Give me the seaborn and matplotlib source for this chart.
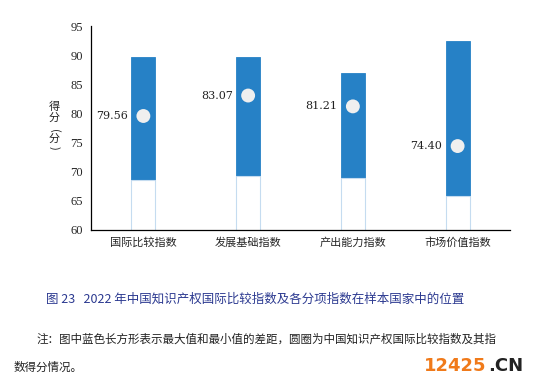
import pandas as pd
import matplotlib
matplotlib.use("Agg")
import matplotlib.pyplot as plt
import seaborn as sns

# data
categories = ["国际比较指数", "发展基础指数", "产出能力指数", "市场价值指数"]
max_vals = [89.7, 89.7, 86.9, 92.4]
min_vals = [68.5, 69.3, 69.0, 65.8]
china_vals = [79.56, 83.07, 81.21, 74.40]
y_ticks = [60, 65, 70, 75, 80, 85, 90, 95]

df = pd.DataFrame({"cat": categories, "max": max_vals, "min": min_vals, "china": china_vals})

sns.set_theme(style="white")
plt.rcParams["font.family"] = ["Noto Sans CJK SC", "DejaVu Sans"]

fig = plt.figure(figsize=(5.57, 3.87), dpi=100)
ax = fig.add_axes([0.1634, 0.4057, 0.7522, 0.5271])

# blue range bar (drawn to max, lower part covered by a white bar up to min)
sns.barplot(data=df, x="cat", y="max", color="#2681c6", saturation=1, width=0.23,
            edgecolor="#2681c6", linewidth=0.6, ax=ax)
sns.barplot(data=df, x="cat", y="min", color="white", saturation=1, width=0.23,
            edgecolor="#c5dcf0", linewidth=0.8, ax=ax)
sns.scatterplot(data=df, x="cat", y="china", color="#efefef", s=100, edgecolor="none",
                zorder=5, ax=ax)

for i, v in enumerate(china_vals):
    ax.annotate(f"{v:.2f}", (i, v), xytext=(-11, 0), textcoords="offset points",
                ha="right", va="center", fontsize=8, family="DejaVu Serif", color="#222222")

ax.set_ylim(60, 95)
ax.set_xlim(-0.5, 3.5)
ax.set_yticks(y_ticks)
ax.set_yticklabels([str(t) for t in y_ticks], family="Liberation Serif", fontsize=9)
ax.set_xticks(range(len(categories)))
ax.set_xticklabels(categories, fontsize=8)
ax.set_xticks([-0.5, 0.5, 1.5, 2.5, 3.5], minor=True)
ax.tick_params(axis="x", which="major", length=0, pad=5)
ax.tick_params(axis="x", which="minor", length=4, width=0.8, direction="out", color="black")
ax.tick_params(axis="y", length=3, width=0.8, direction="out", color="black", pad=3)
ax.set_xlabel("")
ax.set_ylabel("")
for s in ["top", "right"]:
    ax.spines[s].set_visible(False)
for s in ["left", "bottom"]:
    ax.spines[s].set_color("black")
    ax.spines[s].set_linewidth(0.9)

# vertical y label: 得 分 （分）
ylab_x = 54 / 557
for ch, ypx, rot in [("得", 107, 0), ("分", 118, 0), ("(", 131, -90), ("分", 139, 0), (")", 148, -90)]:
    fig.text(ylab_x, 1 - ypx / 387, ch, fontsize=8, ha="center", va="center",
             rotation=rot, color="#222222")

fig.text(0.458, 0.228, "图 23   2022 年中国知识产权国际比较指数及各分项指数在样本国家中的位置",
         fontsize=9, ha="center", va="center", color="#2b3990")
fig.text(0.065, 0.124, "注：图中蓝色长方形表示最大值和最小值的差距，圆圈为中国知识产权国际比较指数及其指",
         fontsize=8.3, ha="left", va="center", color="#222222")
fig.text(0.025, 0.05, "数得分情况。", fontsize=8.3, ha="left", va="center", color="#222222")

fig.text(0.762, 0.055, "12425", fontsize=13, fontweight="bold", color="#f07a1a",
         ha="left", va="center", family="DejaVu Sans")
fig.text(0.877, 0.055, ".CN", fontsize=13, fontweight="bold", color="#222222",
         ha="left", va="center", family="DejaVu Sans")

fig.savefig("out.png", dpi=100)
